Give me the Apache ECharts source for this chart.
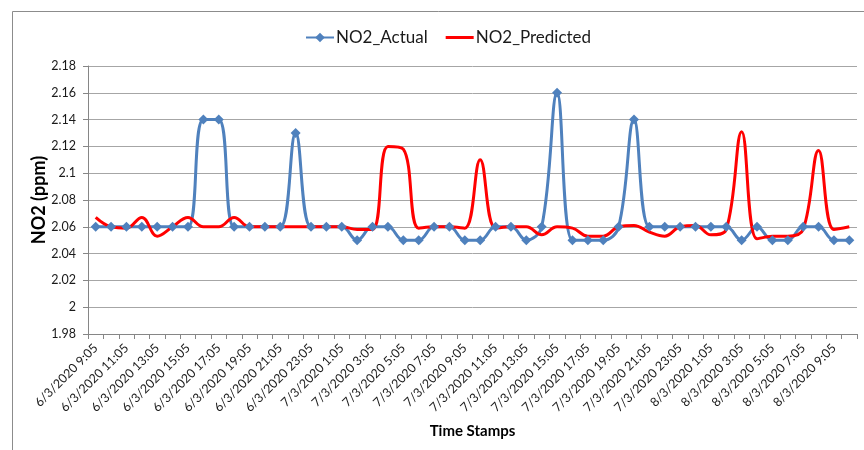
<!DOCTYPE html>
<html>
<head>
<meta charset="utf-8">
<script src="https://cdn.jsdelivr.net/npm/echarts@6/dist/echarts.min.js"></script>
<style>
html,body{margin:0;padding:0;background:#fff;}
#chart{width:864px;height:450px;}
</style>
</head>
<body>
<div id="chart"></div>
<script>
// Hourly time stamps 6/3/2020 9:05 .. 8/3/2020 10:05
const categories = [
  '6/3/2020 9:05','6/3/2020 10:05','6/3/2020 11:05','6/3/2020 12:05','6/3/2020 13:05','6/3/2020 14:05',
  '6/3/2020 15:05','6/3/2020 16:05','6/3/2020 17:05','6/3/2020 18:05','6/3/2020 19:05','6/3/2020 20:05',
  '6/3/2020 21:05','6/3/2020 22:05','6/3/2020 23:05','7/3/2020 0:05','7/3/2020 1:05','7/3/2020 2:05',
  '7/3/2020 3:05','7/3/2020 4:05','7/3/2020 5:05','7/3/2020 6:05','7/3/2020 7:05','7/3/2020 8:05',
  '7/3/2020 9:05','7/3/2020 10:05','7/3/2020 11:05','7/3/2020 12:05','7/3/2020 13:05','7/3/2020 14:05',
  '7/3/2020 15:05','7/3/2020 16:05','7/3/2020 17:05','7/3/2020 18:05','7/3/2020 19:05','7/3/2020 20:05',
  '7/3/2020 21:05','7/3/2020 22:05','7/3/2020 23:05','8/3/2020 0:05','8/3/2020 1:05','8/3/2020 2:05',
  '8/3/2020 3:05','8/3/2020 4:05','8/3/2020 5:05','8/3/2020 6:05','8/3/2020 7:05','8/3/2020 8:05',
  '8/3/2020 9:05','8/3/2020 10:05'
];
const no2Actual = [
  2.06,2.06,2.06,2.06,2.06,2.06,2.06,2.14,2.14,2.06,
  2.06,2.06,2.06,2.13,2.06,2.06,2.06,2.05,2.06,2.06,
  2.05,2.05,2.06,2.06,2.05,2.05,2.06,2.06,2.05,2.06,
  2.16,2.05,2.05,2.05,2.06,2.14,2.06,2.06,2.06,2.06,
  2.06,2.06,2.05,2.06,2.05,2.05,2.06,2.06,2.05,2.05
];
const no2Predicted = [
  2.067,2.060,2.059,2.067,2.053,2.060,2.067,2.060,2.060,2.067,
  2.060,2.060,2.060,2.060,2.060,2.060,2.060,2.058,2.058,2.120,
  2.118,2.059,2.060,2.060,2.059,2.110,2.059,2.060,2.060,2.054,
  2.060,2.059,2.053,2.053,2.060,2.061,2.056,2.053,2.060,2.061,
  2.054,2.058,2.131,2.051,2.053,2.053,2.058,2.117,2.058,2.060
];
const yTicks = { min: 1.98, max: 2.18, step: 0.02 };

const FONT = 'Lato, "Open Sans", sans-serif';
const chart = echarts.init(document.getElementById('chart'), null, {renderer: 'canvas'});
chart.setOption({
  animation: false,
  backgroundColor: '#fff',
  graphic: [{
    type: 'rect', silent: true, z: -1,
    shape: {x: 12.5, y: 11.5, width: 1000, height: 1000},
    style: {fill: 'none', stroke: '#8c8c8c', lineWidth: 1}
  }],
  legend: {
    top: 24, left: 300,
    itemWidth: 28, itemHeight: 12, itemGap: 18,
    textStyle: {fontFamily: FONT, fontSize: 17, color: '#1a1a1a', padding: [0, 0, 0, -3]},
    data: [
      {name: 'NO2_Actual'},
      {name: 'NO2_Predicted', icon: 'path://M0,0 M28,12 M0,4.5 L28,4.5 L28,7.5 L0,7.5 Z'}
    ]
  },
  grid: {left: 88, right: 7, top: 66, bottom: 116, containLabel: false},
  xAxis: {
    type: 'category',
    data: categories,
    boundaryGap: true,
    name: 'Time Stamps',
    nameLocation: 'middle',
    nameGap: 90,
    nameMoveOverlap: false,
    nameTextStyle: {fontFamily: FONT, fontSize: 15, fontWeight: 'bold', color: '#000'},
    axisLine: {lineStyle: {color: '#868686', width: 1}},
    axisTick: {show: true, length: 5, interval: 0, lineStyle: {color: '#868686'}},
    axisLabel: {interval: 1, rotate: 45, margin: 12, fontFamily: FONT, fontSize: 12.5, color: '#1a1a1a'},
    splitLine: {show: false}
  },
  yAxis: {
    type: 'value',
    min: yTicks.min, max: yTicks.max, interval: yTicks.step,
    name: 'NO2 (ppm)',
    nameLocation: 'middle',
    nameGap: 40,
    nameRotate: 90,
    nameMoveOverlap: false,
    nameTextStyle: {fontFamily: FONT, fontSize: 18, fontWeight: 'bold', color: '#000'},
    axisLine: {show: true, lineStyle: {color: '#868686', width: 1}},
    axisTick: {show: true, length: 5, lineStyle: {color: '#868686'}},
    axisLabel: {margin: 12, fontFamily: FONT, fontSize: 12.5, color: '#1a1a1a',
      formatter: v => String(parseFloat(v.toFixed(2)))},
    splitLine: {show: true, lineStyle: {color: '#a6a6a6', width: 1}}
  },
  series: [
    {
      name: 'NO2_Actual', type: 'line', data: no2Actual,
      smooth: 0.4,
      symbol: 'diamond', symbolSize: 10, showSymbol: true,
      itemStyle: {color: '#4F81BD'},
      lineStyle: {color: '#4F81BD', width: 3}
    },
    {
      name: 'NO2_Predicted', type: 'line', data: no2Predicted,
      smooth: 0.4,
      symbol: 'none', showSymbol: false,
      itemStyle: {color: '#FF0000'},
      lineStyle: {color: '#FF0000', width: 3}
    }
  ]
});
</script>
</body>
</html>
